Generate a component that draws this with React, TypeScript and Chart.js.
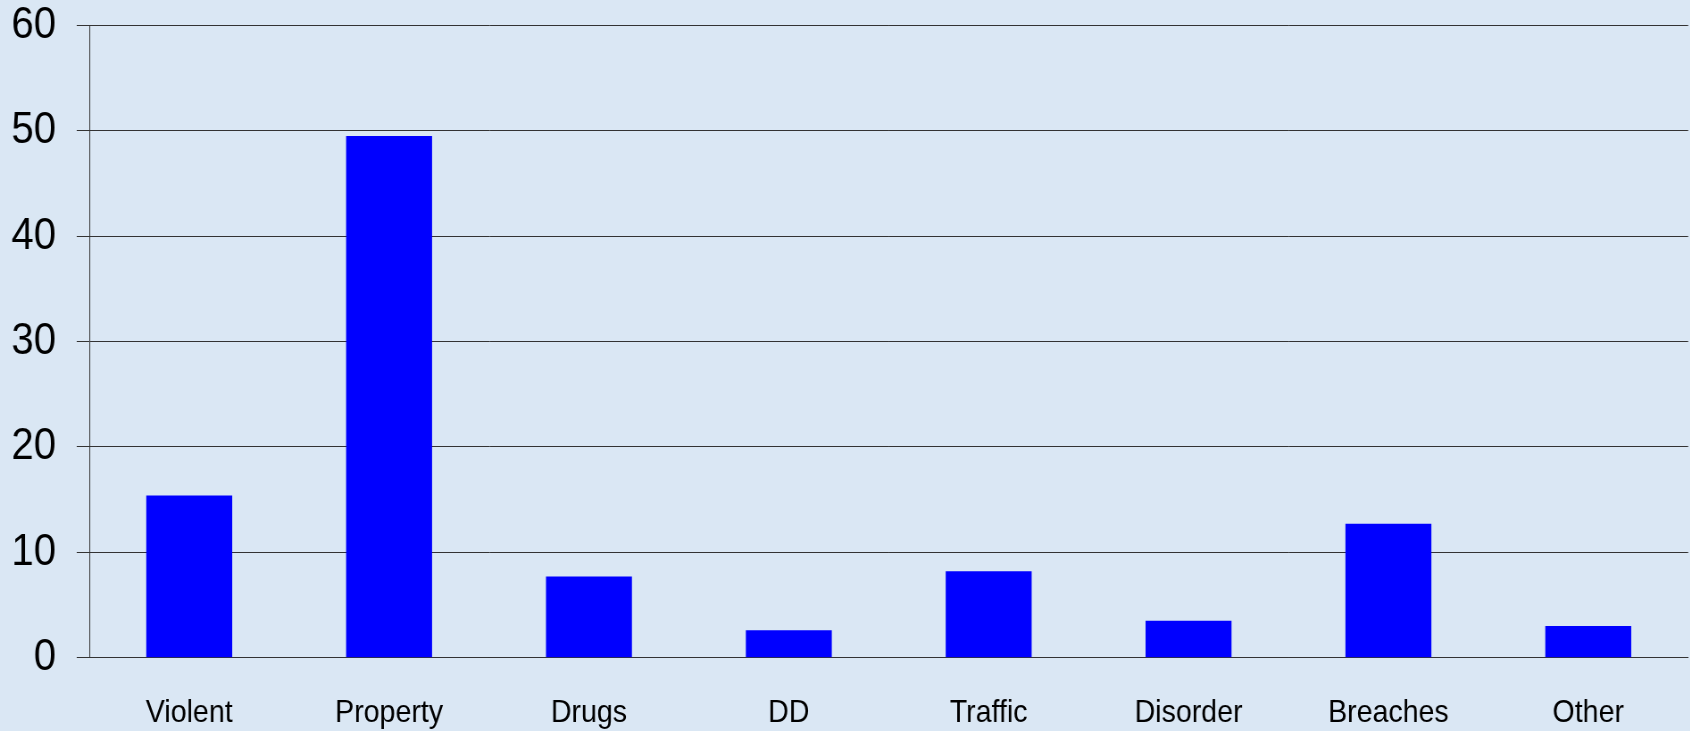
import React, { useEffect, useRef } from "react";
import { Chart, registerables } from "chart.js";

Chart.register(...registerables);

const categories = ["Violent", "Property", "Drugs", "DD", "Traffic", "Disorder", "Breaches", "Other"];
const values = [15.4, 49.5, 7.7, 2.6, 8.2, 3.5, 12.7, 3.0];
const yTicks = [0, 10, 20, 30, 40, 50, 60];

const S = 1.12;
const W = 1690;
const H = 731;
const CW = Math.round(W * S);

export default function App() {
  const ref = useRef<HTMLCanvasElement | null>(null);

  useEffect(() => {
    document.body.style.margin = "0";
    const canvas = ref.current;
    if (!canvas) return;
    const bg = {
      id: "bg",
      beforeDraw(chart: any) {
        const ctx = chart.ctx;
        ctx.save();
        ctx.fillStyle = "#dae7f4";
        ctx.fillRect(0, 0, chart.width, chart.height);
        ctx.restore();
      },
    };
    const chart = new Chart(canvas, {
      type: "bar",
      data: {
        labels: categories,
        datasets: [
          {
            data: values,
            backgroundColor: "#0000ff",
            borderWidth: 0,
            barPercentage: 0.43,
            categoryPercentage: 1,
          },
        ],
      },
      options: {
        responsive: false,
        maintainAspectRatio: false,
        devicePixelRatio: 1,
        animation: false,
        layout: { padding: { top: 25.3, right: 2 * S, left: 0, bottom: 0 } },
        plugins: { legend: { display: false }, tooltip: { enabled: false }, title: { display: false } },
        scales: {
          x: {
            grid: { display: false, drawTicks: false },
            border: { display: true, color: "#333333", width: 1 },
            ticks: {
              color: "#000000",
              padding: 36,
              maxRotation: 0,
              autoSkip: false,
              font: { family: "'Liberation Sans', Arial, sans-serif", size: 32, lineHeight: 1.2 },
            },
            afterFit(scale: any) {
              scale.height = H - 657.7;
              scale.paddingLeft = 0;
              scale.paddingRight = 0;
            },
          },
          y: {
            min: 0,
            max: 60,
            afterBuildTicks(scale: any) {
              scale.ticks = yTicks.map((v) => ({ value: v }));
            },
            grid: { color: "#333333", lineWidth: 1, drawTicks: true, tickLength: 12.6 * S },
            border: { display: true, color: "#333333", width: 1 },
            ticks: {
              color: "#000000",
              padding: 20.7 * S,
              font: { family: "'Liberation Sans', Arial, sans-serif", size: 45, lineHeight: 1.0 },
            },
            afterFit(scale: any) {
              scale.width = 89.3 * S;
              scale.paddingTop = 0;
              scale.paddingBottom = 0;
            },
          },
        },
      },
      plugins: [bg],
    });
    return () => chart.destroy();
  }, []);

  return (
    <div style={{ position: "absolute", left: 0, top: 0, width: W, height: H, overflow: "hidden", background: "#dae7f4" }}>
      <div style={{ width: CW, height: H, transform: `scaleX(${1 / S})`, transformOrigin: "0 0" }}>
        <canvas ref={ref} width={CW} height={H} style={{ display: "block", width: CW, height: H }} />
      </div>
    </div>
  );
}
